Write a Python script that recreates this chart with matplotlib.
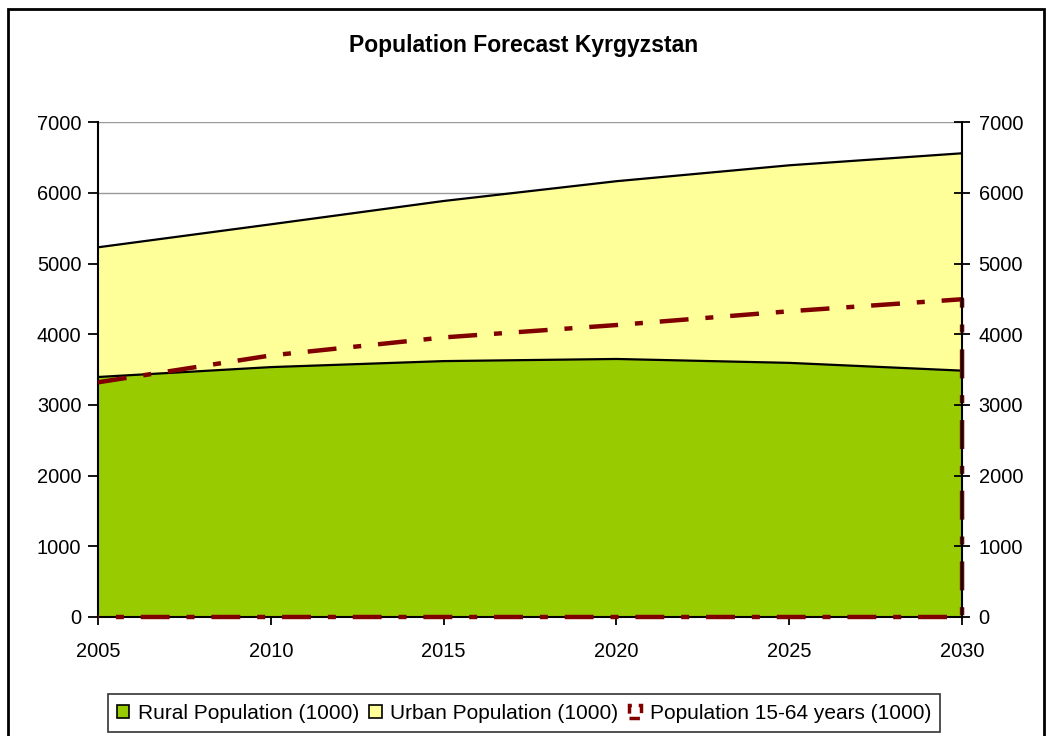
import matplotlib
matplotlib.use("Agg")
import matplotlib.pyplot as plt
from matplotlib.patches import Patch, Rectangle

years = [2005, 2010, 2015, 2020, 2025, 2030]
rural = [3395, 3535, 3620, 3650, 3595, 3485]
total = [5230, 5555, 5885, 6165, 6390, 6560]
urban = [t - r for t, r in zip(total, rural)]
working_age = [3320, 3700, 3955, 4130, 4325, 4495]

plt.rcParams['font.family'] = ['Liberation Sans', 'DejaVu Sans']

fig = plt.figure(figsize=(10.48, 7.36), dpi=100)
ax = fig.add_axes([0.0935, 0.1617, 0.8245, 0.6723])

green = '#99CC00'
yellow = '#FFFF99'
darkred = '#800000'

ax.stackplot(years, rural, urban, colors=[green, yellow], zorder=1)
upper = [r + u for r, u in zip(rural, urban)]
ax.plot(years, rural, color='black', lw=1.6, zorder=3)
ax.plot(years, upper, color='black', lw=1.6, zorder=3)

# working age population: unfilled area, outline runs along the top,
# down the right edge and back along the bottom
wa_x = years + [years[-1], years[0]]
wa_y = working_age + [0, 0]
ax.plot(wa_x, wa_y, color=darkred, lw=3.2, linestyle=(0, (6.5, 3.8, 1.8, 3.8)),
        zorder=4, clip_on=False, solid_capstyle='butt', dash_capstyle='butt')

ax.set_xlim(2005, 2030)
ax.set_ylim(0, 7000)
ax.set_xticks(years)
ax.set_yticks(range(0, 7001, 1000))
ax.grid(axis='y', color='#999999', lw=1, zorder=0)
ax.set_axisbelow(True)
ax.tick_params(axis='both', labelsize=14.4, length=7, width=1.3, direction='out', pad=5)
ax.tick_params(axis='x', direction='inout', length=12, pad=12)
ax.spines['top'].set_visible(False)
ax.spines['right'].set_visible(False)
ax.spines['left'].set_linewidth(1.5)
ax.spines['bottom'].set_linewidth(1.5)

ax2 = ax.twinx()
ax2.set_ylim(0, 7000)
ax2.set_yticks(range(0, 7001, 1000))
ax2.tick_params(axis='y', labelsize=14.4, length=12, width=1.3, direction='inout', pad=6)
ax2.spines['top'].set_visible(False)
ax2.spines['left'].set_visible(False)
ax2.spines['bottom'].set_visible(False)
ax2.spines['right'].set_linewidth(1.5)

fig.text(0.5, 0.938, 'Population Forecast Kyrgyzstan', ha='center', va='center',
         fontsize=16.5, fontweight='bold')

handles = [
    Patch(facecolor=green, edgecolor='black', lw=1.2),
    Patch(facecolor=yellow, edgecolor='black', lw=1.2),
    Patch(facecolor='none', edgecolor=darkred, lw=2.5, linestyle=(0, (3, 2))),
]
labels = ['Rural Population (1000)', 'Urban Population (1000)',
          'Population 15-64 years (1000)']
leg = fig.legend(handles, labels, loc='center', bbox_to_anchor=(0.5, 0.031),
                 ncol=3, fontsize=15, frameon=True, fancybox=False,
                 handlelength=0.6, handleheight=0.6, handletextpad=0.4,
                 columnspacing=0.5, borderpad=0.45, borderaxespad=0)
leg.get_frame().set_edgecolor('black')
leg.get_frame().set_linewidth(1.2)

fig.patches.append(Rectangle((0.008, -0.01), 0.988, 0.998, transform=fig.transFigure,
                             fill=False, edgecolor='black', lw=2))

fig.savefig('out.png', dpi=100)
